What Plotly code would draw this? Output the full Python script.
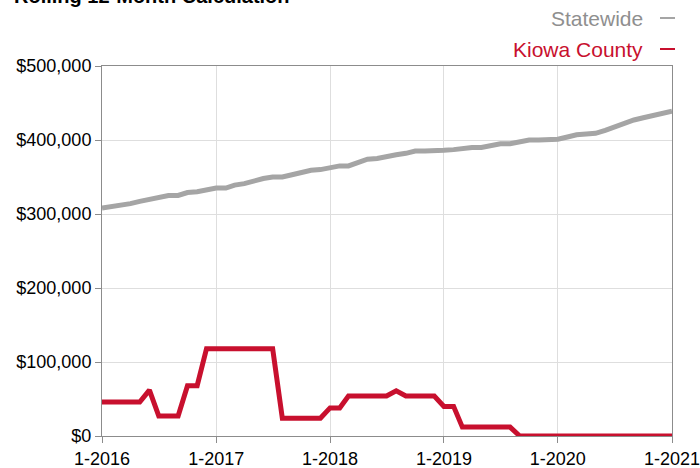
import plotly.graph_objects as go
import pandas as pd

months = pd.date_range("2016-01-01", "2021-01-01", freq="MS")

statewide = [308000, 310000, 311000, 314000, 317000, 320000, 322000, 325000, 325000, 329000,
             330000, 332000, 335000, 335000, 339000, 341000, 345000, 348000, 350000, 350000,
             353000, 356000, 359000, 360000, 362000, 365000, 365000, 370000, 374000, 375000,
             378000, 380000, 382000, 385000, 385000, 385000, 386000, 387000, 389000, 390000,
             390000, 392000, 395000, 395000, 398000, 400000, 400000, 400000, 401000, 404000,
             407000, 408000, 409000, 413000, 418000, 422000, 427000, 430000, 433000, 436000,
             439000]

kiowa = [46000, 46000, 46000, 46000, 46000, 62000, 27000, 27000, 27000, 68000,
         68000, 118000, 118000, 118000, 118000, 118000, 118000, 118000, 118000, 24000,
         24000, 24000, 24000, 24000, 38000, 38000, 54000, 54000, 54000, 54000,
         54000, 61000, 54000, 54000, 54000, 54000, 40000, 40000, 12000, 12000,
         12000, 12000, 12000, 12000, 0, 0, 0, 0, 0, 0,
         0, 0, 0, 0, 0, 0, 0, 0, 0, 0,
         0]

y_ticks = [0, 100000, 200000, 300000, 400000, 500000]
y_labels = ["$0", "$100,000", "$200,000", "$300,000", "$400,000", "$500,000"]
x_ticks = ["2016-01-01", "2017-01-01", "2018-01-01", "2019-01-01", "2020-01-01", "2021-01-01"]
x_labels = ["1-2016", "1-2017", "1-2018", "1-2019", "1-2020", "1-2021"]

GRAY = "#a5a5a5"
RED = "#c8102e"
FONT = "Liberation Sans, Arial, Helvetica, sans-serif"

fig = go.Figure()
fig.add_trace(go.Scatter(x=months, y=statewide, mode="lines", name="Statewide",
                         line=dict(color=GRAY, width=5), cliponaxis=False))
fig.add_trace(go.Scatter(x=months, y=kiowa, mode="lines", name="Kiowa County",
                         line=dict(color=RED, width=5), cliponaxis=False))

fig.update_layout(
    width=700, height=468,
    margin=dict(l=102, r=28, t=66, b=32, autoexpand=False),
    paper_bgcolor="white", plot_bgcolor="white",
    showlegend=False,
    font=dict(family=FONT, size=18, color="#000000"),
    xaxis=dict(
        range=["2016-01-01", "2021-01-01"], tickvals=x_ticks, ticktext=x_labels,
        showgrid=True, gridcolor="#dedede", gridwidth=1,
        showline=True, linecolor="#8c8c8c", linewidth=1, mirror=True,
        ticks="outside", ticklen=6, tickcolor="#8c8c8c",
        tickfont=dict(size=18), zeroline=False, automargin=False,
        ticklabeloverflow="allow",
    ),
    yaxis=dict(
        range=[0, 500000], tickvals=y_ticks, ticktext=y_labels,
        showgrid=True, gridcolor="#dedede", gridwidth=1,
        showline=True, linecolor="#8c8c8c", linewidth=1, mirror=True,
        ticks="outside", ticklen=6, tickcolor="#8c8c8c",
        tickfont=dict(size=18), zeroline=False, automargin=False,
        ticklabeloverflow="allow",
    ),
)

# Title (partly cut off at top)
fig.add_annotation(text="<b>Rolling 12-Month Calculation</b>", xref="paper", yref="paper",
                   x=-90/570, y=1 + (66 - 9) / 370, xanchor="left", yanchor="bottom",
                   showarrow=False, font=dict(size=20, color="#000000", family=FONT))

# Legend (custom, top right)
legend_items = [("Statewide", GRAY, "#8f8f8f", 18), ("Kiowa County", RED, RED, 49)]
for label, lc, tc, ypx in legend_items:
    yp = 1 + (66 - ypx) / 370
    fig.add_annotation(text=label, xref="paper", yref="paper",
                       x=(645 - 102) / 570, y=yp, xanchor="right", yanchor="middle",
                       showarrow=False, font=dict(size=21, color=tc, family=FONT))
    fig.add_shape(type="line", xref="paper", yref="paper",
                  x0=(660 - 102) / 570, x1=(675 - 102) / 570, y0=yp, y1=yp,
                  line=dict(color=lc, width=2))

fig.write_html("out.html", config={"displayModeBar": False},
               post_script="document.body.style.margin='0';document.body.style.overflow='hidden';")
